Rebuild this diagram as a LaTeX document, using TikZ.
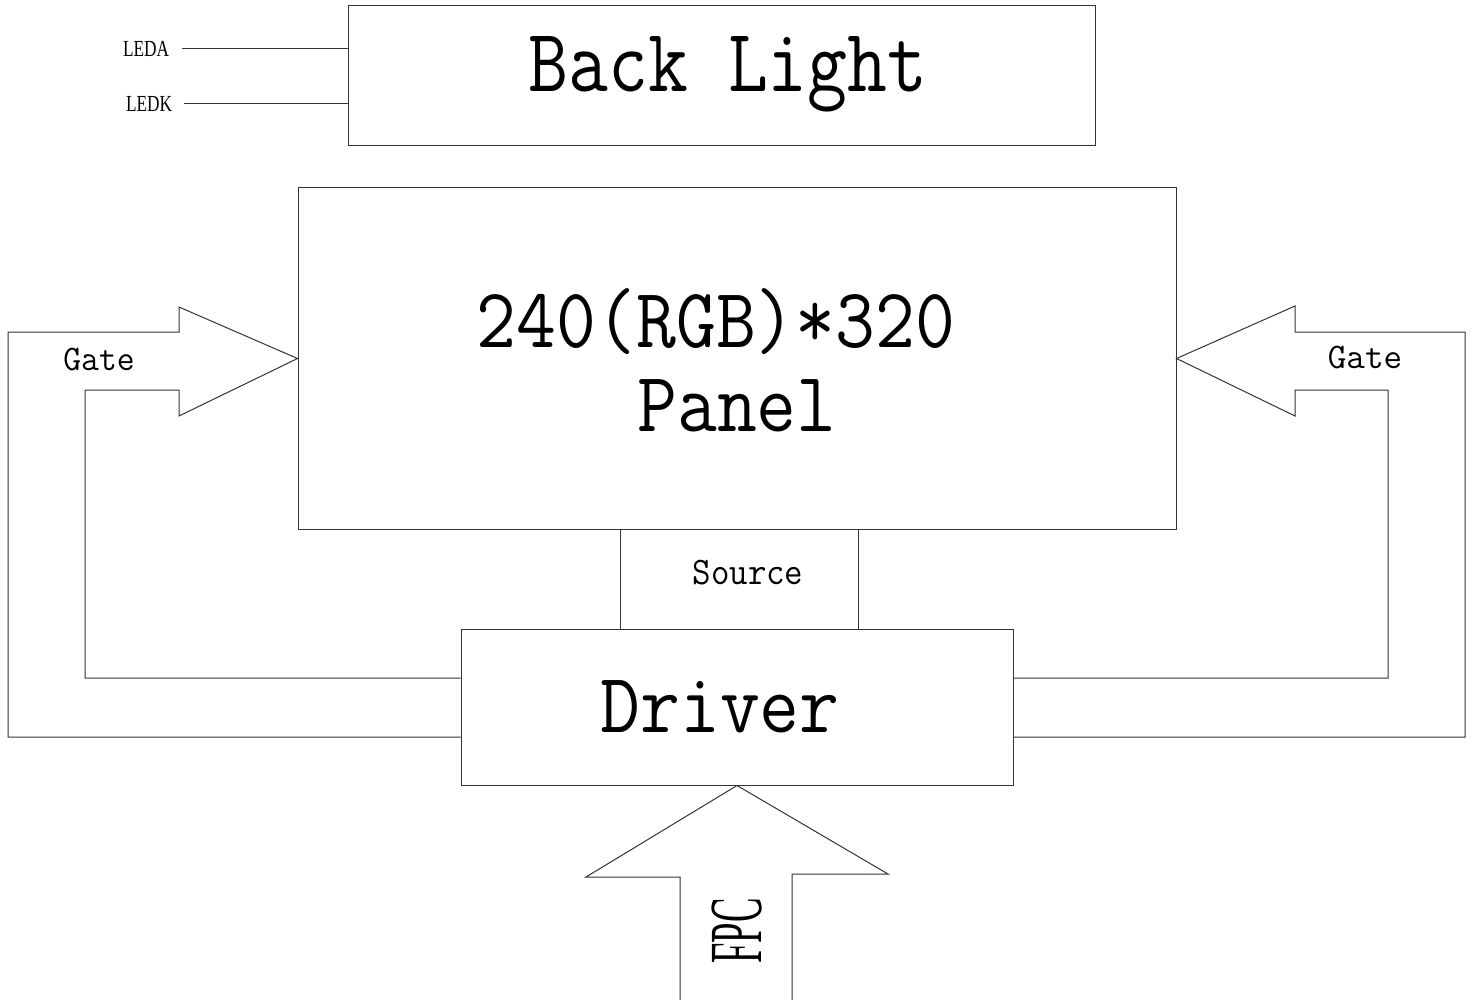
\documentclass[tikz,border=0pt]{standalone}
\usepackage{fontspec}
\setmainfont{Liberation Serif}
\usetikzlibrary{calc}
\newcommand\myxs[2]{\scalebox{#1}[1]{#2}}
\begin{document}
\begin{tikzpicture}[x=1pt,y=-1pt,
  box/.style={draw=black!80,line width=1pt,rectangle,inner sep=0pt},
  wire/.style={draw=black!80,line width=1pt},
  lbl/.style={inner sep=0pt,anchor=base,text=black}]
\useasboundingbox (0,0) rectangle (1472,1000);
% boxes
\node[box,minimum width=747pt,minimum height=140pt] (backlight) at (721.5,76) {};
\node[box,minimum width=878pt,minimum height=341pt] (panel) at (737,358.5) {};
\node[box,minimum width=552pt,minimum height=156pt] (driver) at (737,707) {};
% texts
\node[lbl] (tbl) at (728,92) {\ttfamily\fontsize{90}{90}\selectfont\myxs{0.86}{Back Light}};
\node[lbl] (tres) at (716,347) {\ttfamily\fontsize{85}{85}\selectfont\myxs{0.91}{240(RGB)*320}};
\node[lbl] (tpan) at (737,431) {\ttfamily\fontsize{85}{85}\selectfont\myxs{0.91}{Panel}};
\node[lbl] (tdrv) at (720,732) {\ttfamily\fontsize{85}{85}\selectfont\myxs{0.91}{Driver}};
\node[lbl] (tsrc) at (748,584) {\ttfamily\fontsize{39}{39}\selectfont\myxs{0.92}{Source}};
\node[lbl] (tgl) at (99,370) {\ttfamily\fontsize{36}{36}\selectfont\myxs{0.96}{Gate}};
\node[lbl] (tgr) at (1365,368) {\ttfamily\fontsize{36}{36}\selectfont\myxs{1.0}{Gate}};
\node[lbl] (tleda) at (146,57) {\fontsize{23}{23}\selectfont\myxs{0.75}{LEDA}};
\node[lbl] (tledk) at (149,112) {\fontsize{23}{23}\selectfont\myxs{0.75}{LEDK}};
\node[inner sep=0pt,rotate=90] (tfpc) at (737,931) {\fontsize{75}{75}\selectfont\myxs{0.49}{FPC}};
% LED wires
\coordinate (leda) at (182,49);
\coordinate (ledk) at (184,104);
\draw[wire] (leda) -- (backlight.west |- leda);
\draw[wire] (ledk) -- (backlight.west |- ledk);
% source lines
\draw[wire] ($(panel.south west)+(323,0)$) -- ($(driver.north west)+(160,0)$);
\draw[wire] ($(panel.south west)+(561,0)$) -- ($(driver.north west)+(398,0)$);
% left gate arrow
\draw[wire,line join=miter] ($(driver.west)+(0,30)$) -- (8,737) -- (8,332) -- (179,332) -- (179,307)
  -- (panel.west) -- (179,416) -- (179,390) -- (85,390) -- (85,678) -- ($(driver.west)+(0,-29)$);
% right gate arrow
\draw[wire,line join=miter] ($(driver.east)+(0,30)$) -- (1465,737) -- (1465,332) -- (1295,332) -- (1295,306)
  -- (panel.east) -- (1295,416) -- (1295,390) -- (1388,390) -- (1388,678) -- ($(driver.east)+(0,-29)$);
% FPC arrow
\draw[wire,line join=miter] (680,1002) -- (680,877) -- (586,877) -- (driver.south) -- (888,874) -- (792,874) -- (792,1002);
\end{tikzpicture}
\end{document}
